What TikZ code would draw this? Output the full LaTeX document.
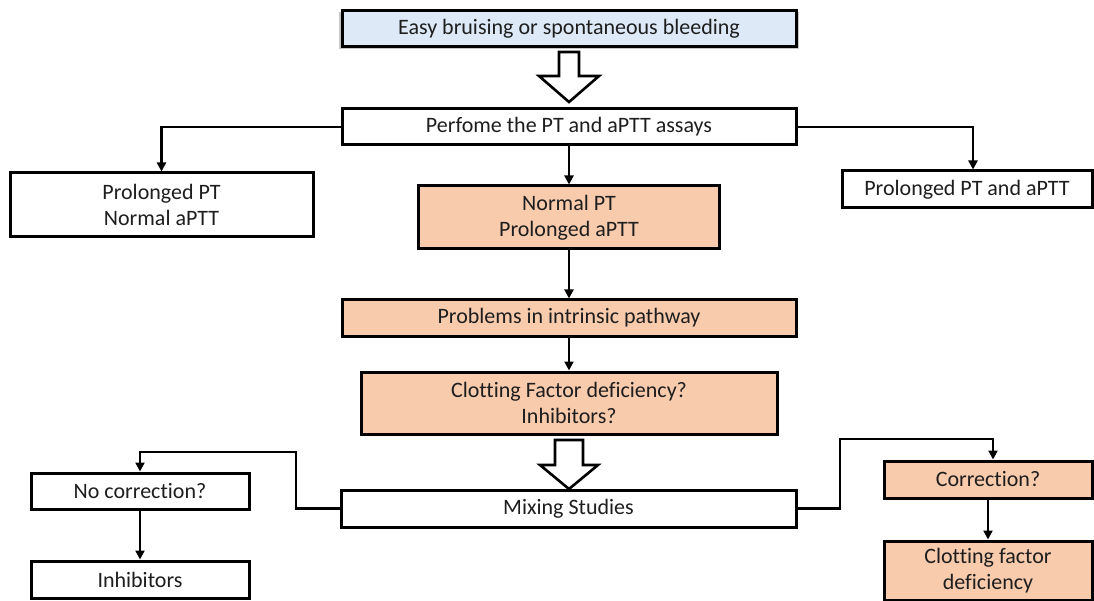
\documentclass[tikz,border=0pt]{standalone}
\usepackage{fontspec}
\setmainfont{Carlito}[Ligatures={NoCommon}]
\usetikzlibrary{arrows.meta,shadows}
\definecolor{boxblue}{RGB}{221,233,246}
\definecolor{boxorange}{RGB}{248,203,173}
\definecolor{txt}{RGB}{30,30,30}
\begin{document}
\begin{tikzpicture}[x=1pt,y=-1pt,
  box/.style={draw=black,line width=3pt,fill=white,inner sep=0pt,align=center,
    font=\fontsize{22}{26}\selectfont,text=txt},
  obox/.style={box,fill=boxorange},
  conn/.style={draw=black,line width=2.4pt,-{Triangle[length=9pt,width=9pt]}},
  hollow/.style={draw=black,line width=2.6pt,fill=white,line join=miter}]
\useasboundingbox (0,0) rectangle (1094,601);
\node[box,fill=boxblue,minimum width=454,minimum height=36,
  drop shadow={opacity=0.45,shadow xshift=0pt,shadow yshift=-1.5pt,shadow scale=1.015}]
  (top) at (569,29) {Easy bruising or spontaneous bleeding};
\node[box,minimum width=454,minimum height=36] (perf) at (569,127) {Perfome the PT and aPTT assays};
\node[box,minimum width=303,minimum height=64] (left1) at (161.5,205) {Prolonged PT\\Normal aPTT};
\node[obox,minimum width=301,minimum height=63] (mid1) at (569,217.5) {Normal PT\\Prolonged aPTT};
\node[box,minimum width=250,minimum height=37] (right1) at (967,189.5) {Prolonged PT and aPTT};
\node[obox,minimum width=454,minimum height=36] (prob) at (569,318) {Problems in intrinsic pathway};
\node[obox,minimum width=416,minimum height=62] (clot) at (569,403) {Clotting Factor deficiency?\\Inhibitors?};
\node[box,minimum width=455,minimum height=37] (mix) at (568.5,508.5) {Mixing Studies};
\node[box,minimum width=218,minimum height=36] (nocorr) at (140,491) {No correction?};
\node[box,minimum width=218,minimum height=37] (inhib) at (140,579.5) {Inhibitors};
\node[obox,minimum width=208,minimum height=37] (corr) at (988,479.5) {Correction?};
\node[obox,minimum width=208,minimum height=59] (cfd) at (988,570.5) {Clotting factor\\deficiency};
% hollow arrows
\draw[hollow] (559,52) -- (579,52) -- (579,76) -- (599,76) -- (569,102) -- (539,76) -- (559,76) -- cycle;
\draw[hollow] (555,440) -- (583,440) -- (583,465) -- (598,465) -- (569,489) -- (540,465) -- (555,465) -- cycle;
% connectors
\draw[conn] (perf.west) -| (left1.north);
\draw[conn] (perf.east) -| ([xshift=6pt]right1.north);
\draw[conn] (perf.south) -- (mid1.north);
\draw[conn] (mid1.south) -- (prob.north);
\draw[conn] (prob.south) -- (clot.north);
\coordinate (lk) at (296,452);
\coordinate (rk) at (840,439);
\draw[conn] (mix.west) -| (lk) -| (nocorr.north);
\draw[conn] (mix.east) -| (rk) -| ([xshift=5pt]corr.north);
\draw[conn] (nocorr.south) -- (inhib.north);
\draw[conn] (corr.south) -- (cfd.north);
\end{tikzpicture}
\end{document}
